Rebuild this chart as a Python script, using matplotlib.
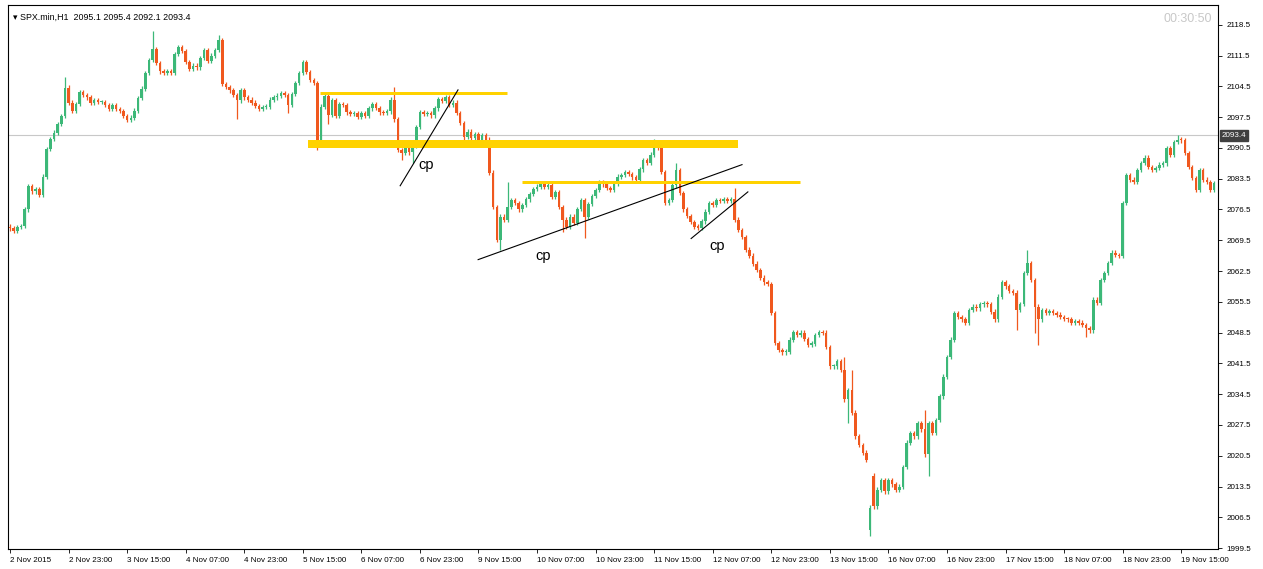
import numpy as np
import matplotlib
matplotlib.use('Agg')
import matplotlib.pyplot as plt

plt.rcParams['font.family'] = ['Liberation Sans', 'DejaVu Sans']

# --- hourly closes (bar 0 = 2 Nov 2015) ---
closes = [
    2072.2, 2071.6, 2072.5, 2072.8, 2076.5, 2081.8, 2080.6, 2081.2, 2079.9, 2084.0, 2090.2, 2092.5, 2094.0, 2096.0, 2097.8, 2104.2,
    2100.8, 2099.0, 2100.5, 2103.2, 2102.6, 2102.0, 2100.8, 2101.3, 2100.9, 2101.0, 2100.2, 2099.3, 2100.3, 2099.4, 2098.9, 2097.8,
    2096.8, 2097.4, 2099.0, 2101.8, 2104.0, 2107.5, 2110.5, 2113.0, 2109.8, 2107.9, 2107.6, 2107.9, 2107.5, 2111.9, 2113.4, 2112.5,
    2110.0, 2108.4, 2109.2, 2108.8, 2111.0, 2112.8, 2110.2, 2111.5, 2112.8, 2115.0, 2105.0, 2104.3, 2103.6, 2102.5, 2101.3, 2103.6,
    2102.0, 2101.5, 2100.8, 2100.0, 2099.3, 2099.8, 2099.9, 2101.5, 2102.0, 2102.4, 2102.9, 2102.6, 2100.3, 2102.8, 2105.3, 2107.5,
    2110.0, 2107.8, 2106.0, 2105.3, 2092.4, 2099.9, 2102.3, 2098.0, 2101.3, 2097.8, 2100.4, 2100.2, 2098.6, 2098.2, 2098.4, 2097.6,
    2098.4, 2097.8, 2099.5, 2100.4, 2099.6, 2098.6, 2098.4, 2098.8, 2101.5, 2097.0, 2090.0, 2089.4, 2091.6, 2089.5, 2091.0, 2095.3,
    2098.7, 2098.3, 2098.5, 2097.9, 2099.5, 2101.6, 2101.2, 2102.0, 2100.3, 2100.8, 2098.5, 2096.2, 2093.0, 2094.2, 2092.8, 2093.6,
    2092.2, 2093.5, 2092.4, 2084.9, 2077.1, 2069.6, 2074.9, 2074.2, 2077.1, 2078.7, 2078.0, 2076.5, 2077.5, 2078.8, 2080.0, 2081.2,
    2081.7, 2082.3, 2081.6, 2082.0, 2079.4, 2080.5, 2077.0, 2074.2, 2072.6, 2074.9, 2073.5, 2076.6, 2078.7, 2074.9, 2077.8, 2079.6,
    2081.0, 2082.8, 2082.2, 2081.4, 2081.0, 2082.3, 2084.0, 2084.4, 2085.0, 2084.6, 2083.8, 2083.3, 2085.6, 2087.8, 2087.1, 2089.0,
    2091.7, 2090.5, 2085.0, 2078.0, 2078.7, 2082.0, 2085.5, 2080.3, 2076.5, 2075.0, 2073.6, 2072.6, 2072.4, 2073.8, 2076.0, 2078.0,
    2077.6, 2078.7, 2078.4, 2078.9, 2078.5, 2078.9, 2074.2, 2071.9, 2070.3, 2067.4, 2066.0, 2064.2, 2062.8, 2061.0, 2059.9, 2059.5,
    2053.0, 2046.2, 2044.6, 2044.0, 2044.2, 2046.9, 2048.7, 2048.0, 2048.5, 2047.0, 2045.8, 2046.0, 2048.0, 2048.7, 2048.5, 2045.3,
    2040.8, 2040.8, 2042.0, 2040.1, 2033.3, 2035.5, 2030.3, 2024.9, 2023.0, 2021.2, 2019.5, 2008.7, 2009.0, 2012.8, 2015.0, 2012.4,
    2015.0, 2014.0, 2012.8, 2013.5, 2018.0, 2023.5, 2025.7, 2024.9, 2028.0, 2026.5, 2020.8, 2028.0, 2025.7, 2028.7, 2034.0, 2038.5,
    2043.0, 2046.9, 2053.0, 2052.0, 2051.5, 2050.8, 2053.7, 2054.4, 2054.0, 2054.9, 2055.2, 2054.9, 2053.3, 2051.5, 2056.7, 2059.9,
    2059.0, 2058.0, 2057.6, 2053.7, 2055.0, 2062.1, 2064.4, 2060.5, 2054.4, 2051.5, 2053.7, 2053.0, 2053.4, 2053.0, 2052.6, 2052.1,
    2051.6, 2051.5, 2050.8, 2051.0, 2050.8, 2050.2, 2049.6, 2049.0, 2056.0, 2055.3, 2060.5, 2062.1, 2064.4, 2066.7, 2066.2, 2066.0,
    2078.0, 2084.4, 2083.3, 2082.8, 2085.5, 2087.1, 2088.3, 2086.2, 2085.5, 2086.0, 2086.7, 2087.0, 2090.5, 2089.0, 2091.9, 2092.4,
    2092.2, 2089.4, 2086.2, 2083.7, 2081.0, 2085.5, 2083.3, 2082.8, 2081.0, 2082.5,
]
first_open = 2072.6
gap_opens = {235: 2003.7, 236: 2016.0}          # bars that do not open at the previous close
long_highs = {15: 2106.7, 39: 2117.0, 57: 2116.2, 80: 2110.6, 105: 2104.4, 136: 2082.8,
              176: 2092.6, 182: 2087.0, 198: 2081.5, 228: 2043.0, 230: 2040.0, 236: 2016.5,
              250: 2031.0, 278: 2067.4, 319: 2093.5}
long_lows = {62: 2097.0, 76: 2098.5, 84: 2090.0, 87: 2096.0, 107: 2087.8, 110: 2087.0,
             124: 2092.0, 134: 2067.4, 151: 2071.3, 157: 2070.0, 229: 2028.0, 235: 2002.2,
             251: 2016.0, 275: 2049.0, 280: 2048.5, 281: 2045.8, 294: 2047.6}

# x axis labels, one every 16 bars
time_labels = ['2 Nov 2015', '2 Nov 23:00', '3 Nov 15:00', '4 Nov 07:00', '4 Nov 23:00', '5 Nov 15:00',
               '6 Nov 07:00', '6 Nov 23:00', '9 Nov 15:00', '10 Nov 07:00', '10 Nov 23:00', '11 Nov 15:00',
               '12 Nov 07:00', '12 Nov 23:00', '13 Nov 15:00', '16 Nov 07:00', '16 Nov 23:00', '17 Nov 15:00',
               '18 Nov 07:00', '18 Nov 23:00', '19 Nov 15:00']
price_ticks = [2118.5, 2111.5, 2104.5, 2097.5, 2090.5, 2083.5, 2076.5, 2069.5, 2062.5,
               2055.5, 2048.5, 2041.5, 2034.5, 2027.5, 2020.5, 2013.5, 2006.5, 1999.5]
last_price = 2093.4

# drawn objects: (bar, price) pairs
yellow_levels = [  # (start bar, end bar, price, width in px)
    (84.7, 135.8, 2103.0, 3),
    (81.4, 198.9, 2091.45, 8),
    (139.9, 215.8, 2082.8, 3),
]
trendlines = [
    ((106.6, 2081.9), (122.4, 2103.7)),
    ((127.9, 2065.1), (200.0, 2086.7)),
    ((186.1, 2069.9), (201.6, 2080.5)),
]
cp_labels = [(113.7, 2086.7), (145.6, 2066.0), (193.2, 2068.3)]

BULL = '#3cb878'
BEAR = '#f0581e'

n = len(closes)
c = np.array(closes)
o = np.empty(n)
o[0] = first_open
o[1:] = c[:-1]
for i, v in gap_opens.items():
    o[i] = v
top = np.maximum(o, c)
bot = np.minimum(o, c)
hi = top + 0.5
lo = bot - 0.5
for i, v in long_highs.items():
    hi[i] = v
for i, v in long_lows.items():
    lo[i] = v

x = np.arange(n)
cols = np.where(c >= o, BULL, BEAR)

fig = plt.figure(figsize=(12.63, 5.69), dpi=100)
ax = fig.add_axes([8 / 1263, 20 / 569, 1210 / 1263, 544 / 569])

ax.axhline(last_price, color='#c8c8c8', lw=0.8, zorder=1)

ax.vlines(x, lo, hi, colors=cols, lw=0.9, zorder=3)
ax.bar(x, np.maximum(top - bot, 0.25), bottom=bot, width=0.7, color=cols, lw=0, zorder=4)

for x0, x1, p, w in yellow_levels:
    ax.plot([x0, x1], [p, p], color='#ffd200', lw=w * 0.72, solid_capstyle='butt', zorder=5)
for (x0, y0), (x1, y1) in trendlines:
    ax.plot([x0, x1], [y0, y1], color='black', lw=0.8, zorder=6)
for xc, yc in cp_labels:
    ax.text(xc, yc, 'cp', fontsize=10.5, ha='center', va='center', zorder=7)

ax.set_xlim(-0.55, 330.05)
ax.set_ylim(1999.3, 2123.0)

ax.set_xticks(np.arange(len(time_labels)) * 16)
ax.set_xticklabels(time_labels, fontsize=5.8, ha='left')
ax.tick_params(axis='x', length=3, width=0.6, pad=3)

ax.yaxis.tick_right()
ax.set_yticks(price_ticks)
ax.set_yticklabels([f'{p:.1f}' for p in price_ticks], fontsize=5.8)
ax.tick_params(axis='y', length=3, width=0.6, pad=3)

for s in ax.spines.values():
    s.set_linewidth(0.8)

ax.text(1.003, last_price, f'{last_price:.1f}', transform=ax.get_yaxis_transform(),
        fontsize=5.8, color='white', va='center', ha='left',
        bbox=dict(boxstyle='square,pad=0.25', fc='#404040', ec='#404040'))

ax.text(0.004, 0.985, '\u25be SPX.min,H1  2095.1 2095.4 2092.1 2093.4', transform=ax.transAxes,
        fontsize=6.4, va='top', ha='left')
ax.text(0.995, 0.985, '00:30:50', transform=ax.transAxes, fontsize=9, color='#c8c8c8',
        va='top', ha='right')

fig.savefig('out.png', dpi=100)
